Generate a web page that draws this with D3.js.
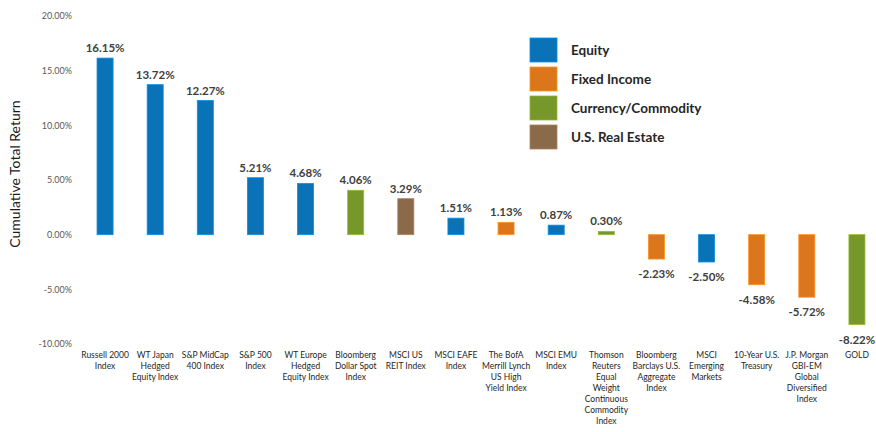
<!DOCTYPE html>
<html lang="en">
<head>
<meta charset="UTF-8">
<title>Cumulative Total Return</title>
<script src="https://cdn.jsdelivr.net/npm/d3@7"></script>
<style>
    body { margin: 0; background: #fff; }
    text { font-family: Lato, "Open Sans", sans-serif; }
</style>
</head>
<body>
<svg id="svg" width="876" height="432"></svg>
<script>
    // data
    const categories = [
        ["Russell 2000", "Index"],
        ["WT Japan", "Hedged", "Equity Index"],
        ["S&P MidCap", "400 Index"],
        ["S&P 500", "Index"],
        ["WT Europe", "Hedged", "Equity Index"],
        ["Bloomberg", "Dollar Spot", "Index"],
        ["MSCI US", "REIT Index"],
        ["MSCI EAFE", "Index"],
        ["The BofA", "Merrill Lynch", "US High", "Yield Index"],
        ["MSCI EMU", "Index"],
        ["Thomson", "Reuters", "Equal", "Weight", "Continuous", "Commodity", "Index"],
        ["Bloomberg", "Barclays U.S.", "Aggregate", "Index"],
        ["MSCI", "Emerging", "Markets"],
        ["10-Year U.S.", "Treasury"],
        ["J.P. Morgan", "GBI-EM", "Global", "Diversified", "Index"],
        ["GOLD"]
    ];
    const values = [16.15, 13.72, 12.27, 5.21, 4.68, 4.06, 3.29, 1.51, 1.13, 0.87, 0.30, -2.23, -2.50, -4.58, -5.72, -8.22];
    const assetClass = ["Equity", "Equity", "Equity", "Equity", "Equity", "Currency/Commodity", "U.S. Real Estate", "Equity",
        "Fixed Income", "Equity", "Currency/Commodity", "Fixed Income", "Equity", "Fixed Income", "Fixed Income", "Currency/Commodity"];
    const legendNames = ["Equity", "Fixed Income", "Currency/Commodity", "U.S. Real Estate"];
    const legendColors = ["#0a72b7", "#dc761c", "#76972a", "#8b6a4a"];
    const yTicks = [20, 15, 10, 5, 0, -5, -10];

    const svg = d3.select("#svg");
    const color = d3.scaleOrdinal().domain(legendNames).range(legendColors);

    const x = d3.scaleBand()
        .domain(d3.range(values.length))
        .range([80, 882])
        .paddingInner(0.68)
        .paddingOuter(0.34);

    const y = d3.scaleLinear().domain([-10, 20]).range([344, 16]);

    // y axis: labels only
    const yAxis = svg.append("g")
        .attr("transform", "translate(72,0)")
        .call(d3.axisLeft(y).tickValues(yTicks).tickSize(0).tickPadding(0)
            .tickFormat(d => d.toFixed(2) + "%"));
    yAxis.select(".domain").remove();
    yAxis.selectAll("text")
        .attr("fill", "#595959")
        .style("font-size", "9px")
        .style("font-family", "Lato, sans-serif");

    svg.append("text")
        .attr("transform", "translate(20,174) rotate(-90)")
        .attr("text-anchor", "middle")
        .attr("fill", "#1a1a1a")
        .style("font-size", "14px")
        .text("Cumulative Total Return");

    // bars
    svg.append("g").selectAll("rect")
        .data(values)
        .join("rect")
        .attr("x", (d, i) => x(i))
        .attr("width", x.bandwidth())
        .attr("y", d => y(Math.max(0, d)))
        .attr("height", d => Math.abs(y(d) - y(0)))
        .attr("fill", (d, i) => color(assetClass[i]))
        .attr("stroke", (d, i) => d3.color(color(assetClass[i])).brighter(0.6))
        .attr("stroke-width", 0.8);

    // value labels
    svg.append("g").selectAll("text")
        .data(values)
        .join("text")
        .attr("x", (d, i) => x(i) + x.bandwidth() / 2)
        .attr("y", d => d >= 0 ? y(d) - 6 : y(d) + 19)
        .attr("text-anchor", "middle")
        .attr("fill", "#404040")
        .style("font-size", "11.5px")
        .style("font-weight", "bold")
        .text(d => d.toFixed(2) + "%");

    // category labels
    const cat = svg.append("g").selectAll("text")
        .data(categories)
        .join("text")
        .attr("x", (d, i) => x(i) + x.bandwidth() / 2)
        .attr("y", 358)
        .attr("text-anchor", "middle")
        .attr("fill", "#262626")
        .style("font-size", "8.5px");
    cat.selectAll("tspan")
        .data(d => d)
        .join("tspan")
        .attr("x", function () { return this.parentNode.getAttribute("x"); })
        .attr("dy", (d, j) => j === 0 ? 0 : 11)
        .text(d => d);

    // legend
    const legend = svg.append("g").selectAll("g")
        .data(legendNames)
        .join("g")
        .attr("transform", (d, i) => `translate(530,${38 + i * 29})`);
    legend.append("rect")
        .attr("width", 27)
        .attr("height", 24)
        .attr("fill", d => color(d))
        .attr("stroke", d => d3.color(color(d)).brighter(0.6))
        .attr("stroke-width", 0.8);
    legend.append("text")
        .attr("x", 41)
        .attr("y", 17)
        .attr("fill", "#262626")
        .style("font-size", "13.5px")
        .style("font-weight", "bold")
        .text(d => d);
</script>
</body>
</html>
